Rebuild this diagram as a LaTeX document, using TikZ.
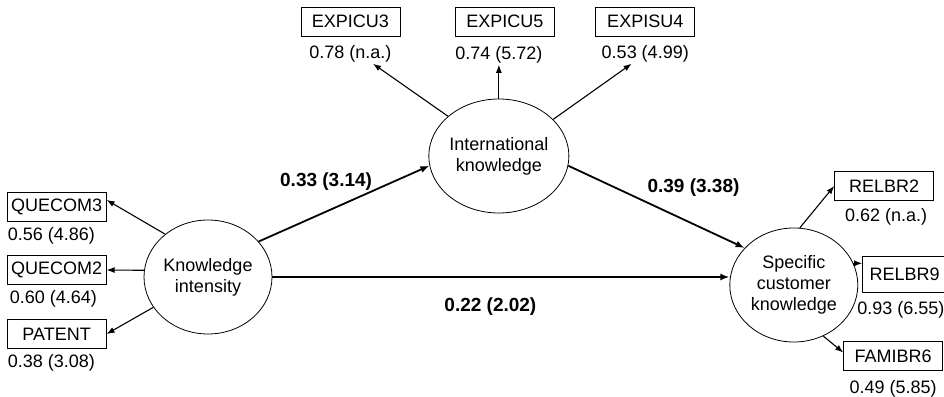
\documentclass[tikz,border=0pt]{standalone}
\usepackage{fontspec}
\setmainfont{Liberation Sans}
\usetikzlibrary{positioning,arrows.meta,shapes.geometric}

\tikzset{
    latent/.style={ellipse, draw, line width=0.8pt, minimum width=128pt, minimum height=114pt, align=center, inner sep=0pt},
    ind/.style={rectangle, draw, line width=0.9pt, minimum width=99pt, minimum height=29pt, inner sep=2pt},
    load/.style={inner sep=1pt},
    coef/.style={inner sep=1pt, font=\fontsize{19}{22}\selectfont\bfseries},
    meas/.style={-{Latex[length=8pt,width=6pt]}, line width=1.1pt},
    struct/.style={-{Latex[length=9pt,width=7pt]}, line width=1.8pt},
}

\begin{document}
\begin{tikzpicture}[x=1pt, y=-1pt, font=\fontsize{18}{21}\selectfont]
    \useasboundingbox (0,0) rectangle (944,396);

    \node[latent] (ki) at (208,277) {Knowledge\\intensity};
    \node[latent, minimum width=124pt, right=156pt of ki, yshift=121pt] (ik) {International\\knowledge};
    \node[latent, right=457pt of ki, yshift=-8pt] (sck) {Specific\\customer\\knowledge};

    \node[ind, left=37pt of ki, yshift=70pt] (q3) {QUECOM3};
    \node[ind, left=37pt of ki, yshift=7pt] (q2) {QUECOM2};
    \node[ind, left=37pt of ki, yshift=-57pt] (pat) {PATENT};
    \node[load, below=4pt of q3.south west, anchor=north west] (lq3) {0.56 (4.86)};
    \node[load, below=4pt of q2.south west, anchor=north west, xshift=2pt] (lq2) {0.60 (4.64)};
    \node[load, below=4pt of pat.south west, anchor=north west] (lpat) {0.38 (3.08)};

    \node[ind, above=62pt of ik, xshift=6pt] (e5) {EXPICU5};
    \node[ind, left=54.5pt of e5] (e3) {EXPICU3};
    \node[ind, right=40.5pt of e5] (e4) {EXPISU4};
    \node[load, below=8pt of e3] (le3) {0.78 (n.a.)};
    \node[load, below=9pt of e5, xshift=-6pt] (le5) {0.74 (5.72)};
    \node[load, below=8pt of e4] (le4) {0.53 (4.99)};

    \node[ind, minimum width=84pt, minimum height=36pt, right=4pt of sck, yshift=11pt] (r9) {RELBR9};
    \node[ind, right=-24pt of sck, yshift=99pt] (r2) {RELBR2};
    \node[ind, right=-15pt of sck, yshift=-71pt] (f6) {FAMIBR6};
    \node[load, below=6pt of r2, xshift=2pt] (lr2) {0.62 (n.a.)};
    \node[load, below=8pt of r9.south west, anchor=north west, xshift=-6pt] (lr9) {0.93 (6.55)};
    \node[load, below=8pt of f6] (lf6) {0.49 (5.85)};

    \draw[meas] (ki.135) -- (q3.8);
    \draw[meas] (ki.174) -- (q2.east);
    \draw[meas] (ki.209) -- (pat.east);
    \draw[meas] (ik.142) -- (le3.-23);
    \draw[meas] (ik) -- (le5);
    \draw[meas] (ik.34) -- (le4.215);
    \draw[meas] (sck.84) -- (r2.west);
    \draw[meas] (sck.20) -- (sck.20 -| r9.west);
    \draw[meas] (sck.-60) -- (f6.176);

    \draw[struct] (ki.35) -- (ik.188) node[coef, pos=0.395, yshift=30pt] (c1) {0.33 (3.14)};
    \draw[struct] (ik.-8) -- (sck.143) node[coef, pos=0.71, yshift=37pt] (c2) {0.39 (3.38)};
    \draw[struct] (ki.east) -- (ki.east -| sck.west) node[coef, pos=0.477, yshift=-30pt] (c3) {0.22 (2.02)};
\end{tikzpicture}
\end{document}
